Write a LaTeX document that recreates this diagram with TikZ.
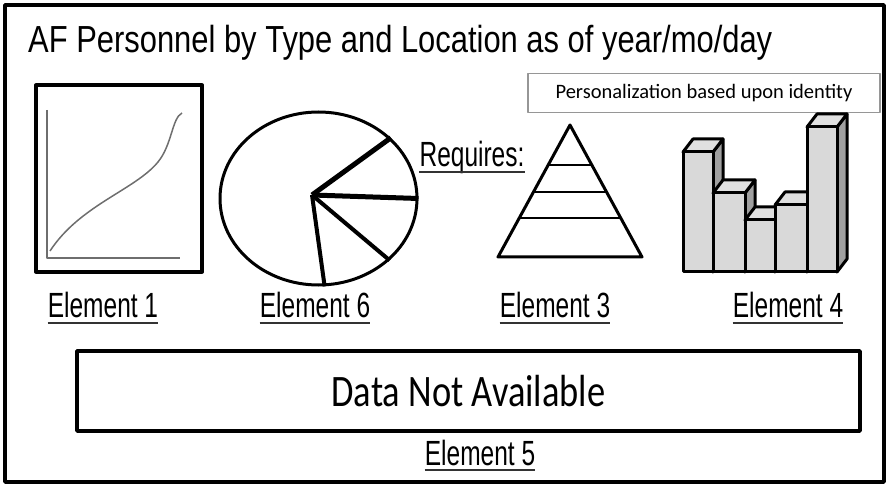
\documentclass[tikz,border=0pt]{standalone}
\usepackage{fontspec}
\usepackage{tikz}
\usetikzlibrary{positioning,calc,shapes.geometric}
\setmainfont{Liberation Sans}
\newfontfamily\titlefont[FakeStretch=0.82]{Liberation Sans}
\newfontfamily\elemfont[FakeStretch=0.70]{Liberation Sans}
\newfontfamily\calfont{Carlito}
\newfontfamily\calnarrow[FakeStretch=0.81]{Carlito}
\definecolor{barfront}{RGB}{217,217,217}
\definecolor{barside}{RGB}{160,160,160}
\definecolor{bartop}{RGB}{224,224,224}
\definecolor{framegray}{RGB}{150,150,150}
\definecolor{curvegray}{RGB}{110,110,110}

\begin{document}
\begin{tikzpicture}[x=1bp, y=-1bp, line join=round,
  elem/.style={font=\elemfont\fontsize{35bp}{40bp}\selectfont, inner sep=0pt, anchor=base},
  uline/.style={line width=2.5bp, black!80},
  bar/.style={draw, line width=3bp}]
\useasboundingbox (0,0) rectangle (889,485);
\draw[line width=3.5bp] (5,5) rectangle (884,482);
\node[anchor=base west, inner sep=0pt, font=\titlefont\fontsize{37.7bp}{40bp}\selectfont] (title) at (28,53) {AF Personnel by Type and Location as of year/mo/day};
\node[draw=framegray, line width=1.5bp, minimum width=352bp, minimum height=39bp, inner sep=0pt, font=\calfont\fontsize{20.5bp}{24bp}\selectfont] (pers) at (704,93) {Personalization based upon identity};
% element 1: line chart
\node[draw, line width=4bp, minimum width=166bp, minimum height=186bp, inner sep=0pt] (plot) at (119,178.5) {};
\draw[curvegray, line width=1.5bp] (47,110) -- (47,258) -- (180,258);
\draw[curvegray, line width=1.5bp] (50,251) .. controls (80,205) and (135,190) .. (158,162) .. controls (172,145) and (172,118) .. (182,113);
% element 6: pie
\node[draw, ellipse, line width=3bp, fill=white, minimum width=197bp, minimum height=173bp, inner sep=0pt] (pie) at (318.5,198.5) {};
\coordinate (hub) at (312,195);
\draw[line width=5bp] (hub) -- (pie.40);
\draw[line width=5bp] (hub) -- (pie.0);
\draw[line width=4bp] (hub) -- (pie.-41);
\draw[line width=4bp] (hub) -- (pie.-86);
% element 3: pyramid
\coordinate (apex) at (570,125);
\coordinate (bl) at (498,257);
\coordinate (br) at (642,257);
\draw[line width=3bp, fill=white] (apex) -- (bl) -- (br) -- cycle;
\foreach \f in {0.303,0.508,0.705}
  \draw[line width=2.5bp] ($(apex)!\f!(bl)$) -- ($(apex)!\f!(br)$);
% element 4: bars
\foreach \a/\b/\t in {683/713/152, 713/745/193, 745/775/220, 775/807/205, 807/837/127} {
  \draw[bar, fill=barside] (\b,\t) -- ++(10,-13) -- (\b+10,259) -- (\b,272) -- cycle;
  \draw[bar, fill=bartop] (\a,\t) -- ++(10,-13) -- (\b+10,\t-13) -- (\b,\t) -- cycle;
  \draw[bar, fill=barfront] (\a,\t) rectangle (\b,272);
}
% element 5
\node[draw, line width=3.5bp, minimum width=783bp, minimum height=80bp, inner sep=0pt, font=\calnarrow\fontsize{45bp}{50bp}\selectfont] (data) at (468.5,391) {Data Not Available};
% labels
\foreach \n/\x/\y/\t in {e1/103/318/Element 1, e6/315/318/Element 6, e3/555/318/Element 3, e4/788/318/Element 4, e5/480/465/Element 5, req/472/167/Requires:} {
  \node[elem] (\n) at (\x,\y) {\t};
  \draw[uline] ([yshift=-5bp]\n.base west) -- ([yshift=-5bp]\n.base east);
}
\end{tikzpicture}
\end{document}
